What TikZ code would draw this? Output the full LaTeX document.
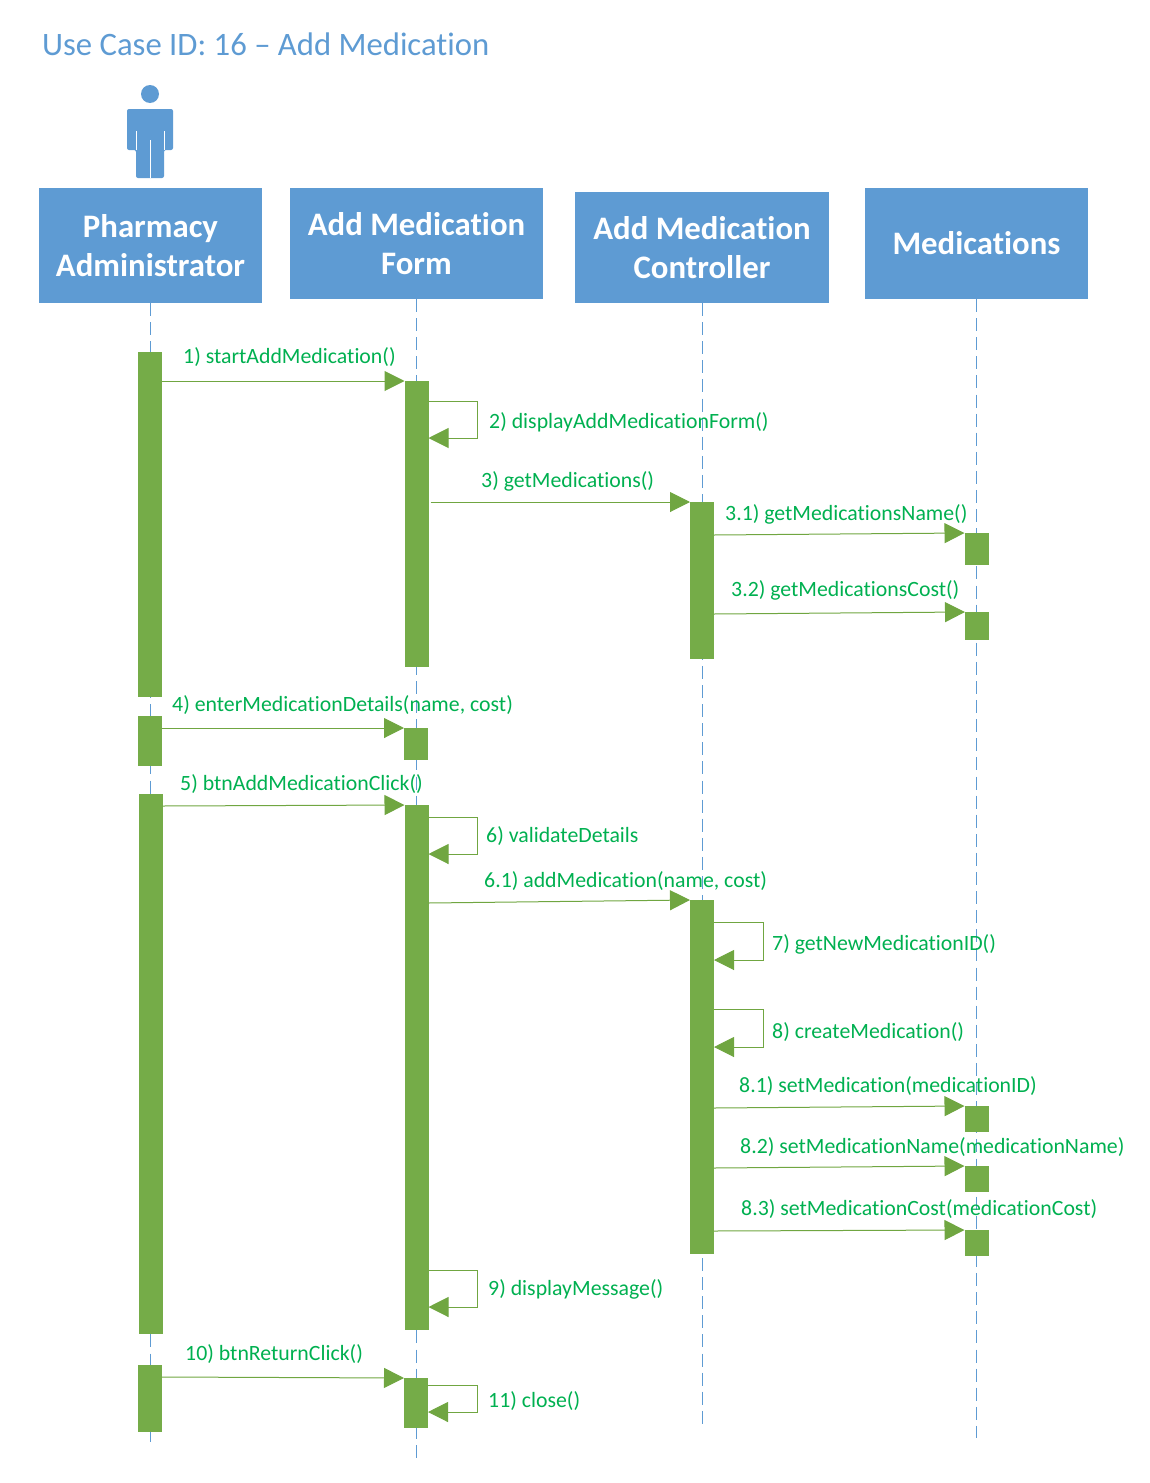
\documentclass[tikz,border=0pt]{standalone}
\usepackage{fontspec}
\setmainfont[Ligatures=NoCommon]{Carlito}
\usepackage{tikz}
\usetikzlibrary{arrows.meta,positioning}
\definecolor{headblue}{HTML}{5E9BD3}
\definecolor{barcol}{HTML}{75AC48}
\definecolor{msgcol}{HTML}{70A641}
\definecolor{labelcol}{HTML}{00B050}

\begin{document}
\begin{tikzpicture}[
        x=1pt, y=-1pt,
        head/.style={fill=headblue, text=white, align=center, inner sep=0pt, outer sep=0pt, font=\fontsize{32.8}{39}\selectfont\bfseries},
        bar/.style={fill=barcol, minimum width=24pt, inner sep=0pt, outer sep=0pt},
        life/.style={headblue, line width=1pt, dash pattern=on 13pt off 6.1pt},
        msg/.style={msgcol, line width=1pt, -{Triangle[length=20pt,width=20pt]}},
        lbl/.style={text=labelcol, anchor=west, inner sep=0pt, yshift=-1pt, font=\fontsize{21.8}{24}\selectfont}
    ]
        \useasboundingbox (0,0) rectangle (1149,1483);
        \node[text=headblue, anchor=west, inner sep=0pt, font=\fontsize{32.7}{36}\selectfont] (title) at (42,44.5) {Use Case ID: 16 – Add Medication};

        % head boxes
        \node[head, minimum width=223pt, minimum height=115pt, anchor=north west] (admin) at (39,188) {Pharmacy\\Administrator};
        \node[head, minimum width=253pt, minimum height=111pt, right=28pt of admin.north east, anchor=north west] (form) {Add Medication\\Form};
        \node[head, minimum width=254pt, minimum height=111pt, right=32pt of form.north east, anchor=north west, yshift=-4pt] (ctrl) {Add Medication\\Controller};
        \node[head, minimum width=223pt, minimum height=111pt, right=36pt of ctrl.north east, anchor=north west, yshift=4pt] (med) {Medications};

        % actor
        \fill[headblue] (150,94) circle (9);
        \fill[headblue, rounded corners=2pt] (127,150) -- (127,109) -- (173,109) -- (173,150) -- (164,150) -- (164,178) -- (136,178) -- (136,150) -- cycle;
        \fill[white] (135.5,131) rectangle (136.5,150);
        \fill[white] (163.5,131) rectangle (164.5,150);
        \draw[white, line width=1pt] (150,140) -- (150,178);

        % lifelines
        \coordinate[below=1139pt of admin] (adminend);
        \coordinate[below=1164pt of form] (formend);
        \coordinate[below=1122pt of ctrl] (ctrlend);
        \coordinate[below=1139pt of med] (medend);
        \draw[life] (admin) -- (adminend);
        \draw[life] (form) -- (formend);
        \draw[life] (ctrl) -- (ctrlend);
        \draw[life] (med) -- (medend);

        % activation bars
        \node[bar, minimum height=345pt, below=49pt of admin, xshift=-.5pt] (adma) {};
        \node[bar, minimum height=50pt, below=19pt of adma] (admb) {};
        \node[bar, minimum height=540pt, below=28pt of admb, xshift=.5pt] (admc) {};
        \node[bar, minimum height=67pt, below=31pt of admc, xshift=-.5pt] (admd) {};
        \node[bar, minimum height=286pt, below=82pt of form] (forma) {};
        \node[bar, minimum height=32pt, below=61pt of forma, xshift=-.5pt] (formb) {};
        \node[bar, minimum height=525pt, below=45pt of formb, xshift=.5pt] (formc) {};
        \node[bar, minimum height=50pt, below=48pt of formc, xshift=-.5pt] (formd) {};
        \node[bar, minimum height=157pt, below=199pt of ctrl] (ctrla) {};
        \node[bar, minimum height=354pt, below=241pt of ctrla] (ctrlb) {};
        \node[bar, minimum height=32pt, below=234pt of med] (meda) {};
        \node[bar, minimum height=28pt, below=47pt of meda, xshift=.5pt] (medb) {};
        \node[bar, minimum height=26pt, below=466pt of medb, xshift=-.5pt] (medc) {};
        \node[bar, minimum height=26pt, below=34pt of medc] (medd) {};
        \node[bar, minimum height=26pt, below=38pt of medd] (mede) {};

        % messages
        \draw[msg] ([yshift=-29pt]adma.north east) -- (forma.north west);
        \draw[msg] ([yshift=-20pt]forma.north east) -- ++(49,0) |- ([yshift=-57pt]forma.north east);
        \draw[msg] ([xshift=2pt,yshift=-121pt]forma.north east) -- (ctrla.north west);
        \draw[msg] ([yshift=-33pt]ctrla.north east) -- (meda.north west);
        \draw[msg] ([yshift=-112pt]ctrla.north east) -- (medb.north west);
        \draw[msg] ([yshift=-12pt]admb.north east) -- (formb.north west);
        \draw[msg] ([yshift=-12pt]admc.north east) -- (formc.north west);
        \draw[msg] ([yshift=-12pt]formc.north east) -- ++(49,0) |- ([yshift=-49pt]formc.north east);
        \draw[msg] ([yshift=-98pt]formc.north east) -- (ctrlb.north west);
        \draw[msg] ([yshift=-22pt]ctrlb.north east) -- ++(49,0) |- ([yshift=-60pt]ctrlb.north east);
        \draw[msg] ([yshift=-109pt]ctrlb.north east) -- ++(49,0) |- ([yshift=-147pt]ctrlb.north east);
        \draw[msg] ([yshift=-208pt]ctrlb.north east) -- (medc.north west);
        \draw[msg] ([yshift=-268pt]ctrlb.north east) -- (medd.north west);
        \draw[msg] ([yshift=-331pt]ctrlb.north east) -- (mede.north west);
        \draw[msg] ([yshift=-465pt]formc.north east) -- ++(49,0) |- ([yshift=-502pt]formc.north east);
        \draw[msg] ([yshift=-12pt]admd.north east) -- (formd.north west);
        \draw[msg] ([yshift=-7pt]formd.north east) -- ++(49,0) |- ([yshift=-34pt]formd.north east);

        % message labels
        \node[lbl] (m1) at (183,356) {1) startAddMedication()};
        \node[lbl] (m2) at (489,421) {2) displayAddMedicationForm()};
        \node[lbl] (m3) at (481,480) {3) getMedications()};
        \node[lbl] (m31) at (725,513) {3.1) getMedicationsName()};
        \node[lbl] (m32) at (731,589) {3.2) getMedicationsCost()};
        \node[lbl] (m4) at (172,704) {4) enterMedicationDetails(name, cost)};
        \node[lbl] (m5) at (180,783) {5) btnAddMedicationClick()};
        \node[lbl] (m6) at (486,835) {6) validateDetails};
        \node[lbl] (m61) at (484,880) {6.1) addMedication(name, cost)};
        \node[lbl] (m7) at (772,943) {7) getNewMedicationID()};
        \node[lbl] (m8) at (772,1031) {8) createMedication()};
        \node[lbl] (m81) at (739,1085) {8.1) setMedication(medicationID)};
        \node[lbl] (m82) at (740,1146) {8.2) setMedicationName(medicationName)};
        \node[lbl] (m83) at (741,1208) {8.3) setMedicationCost(medicationCost)};
        \node[lbl] (m9) at (488,1288) {9) displayMessage()};
        \node[lbl] (m10) at (185,1353) {10) btnReturnClick()};
        \node[lbl] (m11) at (488,1400) {11) close()};
    \end{tikzpicture}
\end{document}
